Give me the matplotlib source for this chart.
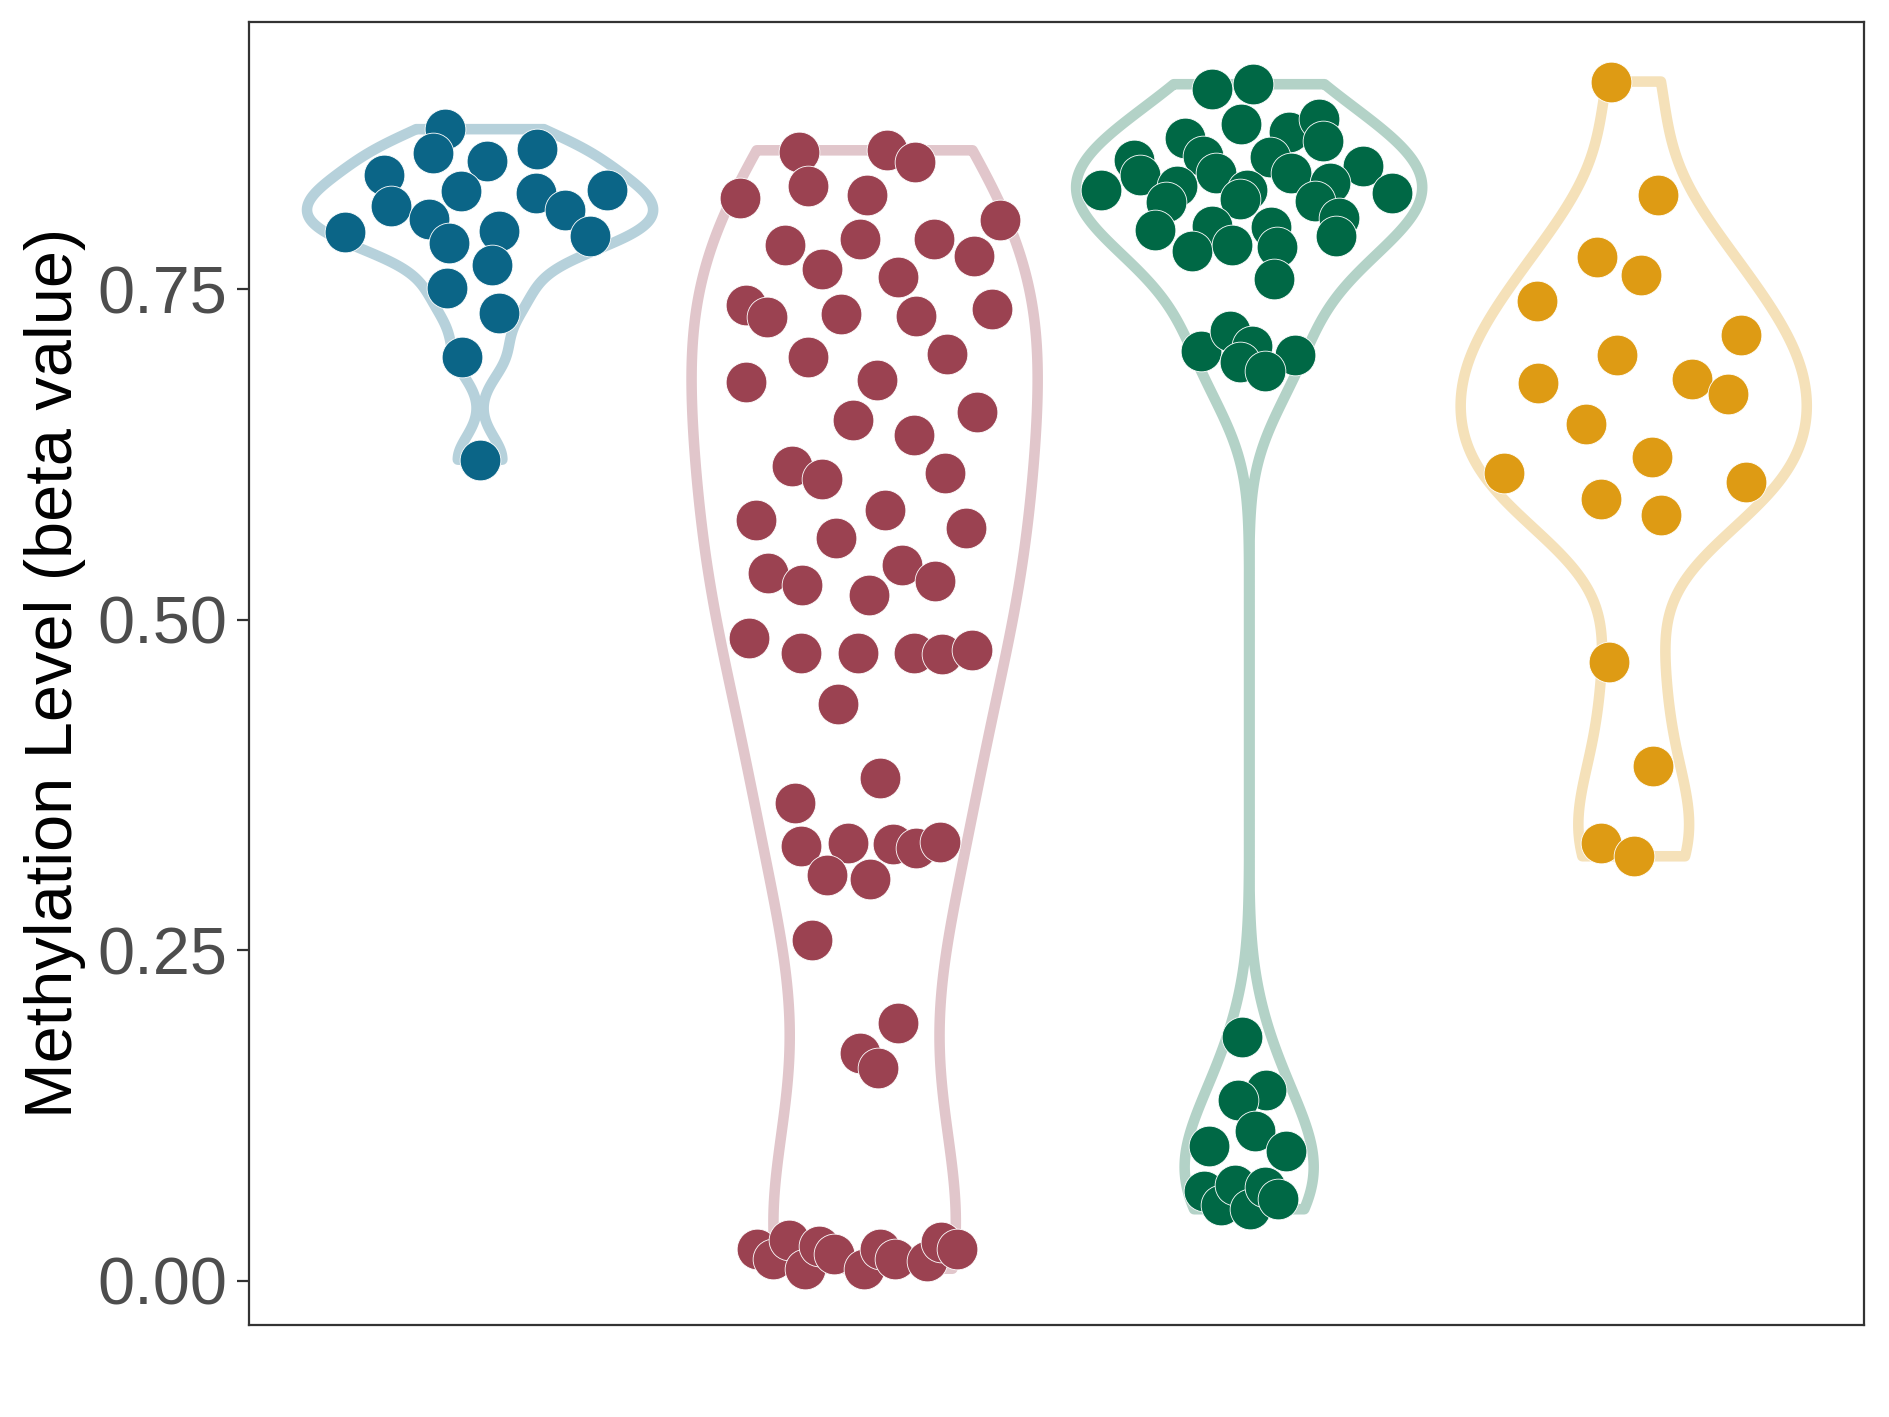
import numpy as np
import matplotlib
matplotlib.use("Agg")
import matplotlib.pyplot as plt

plt.rcParams['font.family'] = ['Liberation Sans', 'DejaVu Sans']

# ---- data ----
groups = ["G1", "G2", "G3", "G4"]
point_colors = ["#0B6587", "#9B4251", "#006845", "#DE9B14"]

g1_jitter = [-0.092, -0.122, -0.250, 0.017, 0.148, -0.049, -0.231, 0.146, 0.331, -0.134,
             0.220, -0.351, -0.082, 0.049, 0.287, 0.030, -0.087, 0.049, -0.047, 0.000]
g1_values = [0.871, 0.853, 0.836, 0.847, 0.856, 0.824, 0.813, 0.823, 0.825, 0.803,
             0.810, 0.793, 0.785, 0.794, 0.790, 0.768, 0.751, 0.732, 0.699, 0.621]

g2_jitter = [-0.170, 0.058, 0.131, -0.148, -0.324, 0.005, 0.351, -0.207, -0.012, 0.180,
             0.284, -0.112, 0.087, -0.309, -0.255, -0.061, 0.134, 0.331, -0.146, 0.214,
             -0.308, 0.032, -0.030, 0.292, 0.129, -0.189, -0.110, 0.209, 0.052, -0.283,
             0.264, -0.075, 0.098, -0.250, -0.162, 0.011, 0.184, -0.301, -0.165, -0.018,
             0.129, 0.201, 0.279, -0.070, 0.039, -0.182, -0.165, -0.044, 0.075, 0.134,
             0.195, -0.099, 0.014, -0.138, 0.087, -0.012, 0.035,
             -0.279, -0.238, -0.196, -0.155, -0.118, -0.080, -0.001, 0.040, 0.079, 0.161,
             0.198, 0.239]
g2_values = [0.854, 0.855, 0.846, 0.828, 0.819, 0.821, 0.802, 0.783, 0.788, 0.788,
             0.775, 0.765, 0.759, 0.738, 0.729, 0.731, 0.730, 0.735, 0.699, 0.701,
             0.680, 0.681, 0.651, 0.657, 0.640, 0.616, 0.606, 0.611, 0.583, 0.575,
             0.569, 0.562, 0.541, 0.535, 0.526, 0.519, 0.529, 0.486, 0.475, 0.475,
             0.475, 0.474, 0.477, 0.436, 0.380, 0.361, 0.329, 0.331, 0.330, 0.327,
             0.332, 0.307, 0.304, 0.258, 0.195, 0.172, 0.161,
             0.024, 0.016, 0.031, 0.009, 0.026, 0.020, 0.009, 0.024, 0.016, 0.015,
             0.029, 0.024]

g3_jitter = [-0.096, 0.010, -0.020, 0.103, 0.181, 0.193, -0.168, -0.300, -0.284, -0.120,
             -0.085, 0.055, 0.110, 0.296, 0.372, -0.385, -0.188, -0.215, -0.005, -0.024,
             0.211, 0.170, 0.233, 0.226, -0.244, -0.097, -0.148, -0.044, 0.058, 0.073,
             0.064,
             -0.124, -0.051, 0.008, 0.118, -0.023, 0.040,
             -0.019, 0.045, -0.029, 0.014, -0.105, 0.097,
             -0.118, -0.072, -0.038, 0.001, 0.040, 0.075]
g3_values = [0.901, 0.905, 0.875, 0.869, 0.879, 0.862, 0.864, 0.848, 0.836, 0.851,
             0.838, 0.850, 0.838, 0.843, 0.823, 0.825, 0.828, 0.816, 0.825, 0.818,
             0.830, 0.817, 0.804, 0.790, 0.795, 0.798, 0.779, 0.783, 0.797, 0.782,
             0.758,
             0.703, 0.718, 0.707, 0.700, 0.695, 0.688,
             0.184, 0.144, 0.137, 0.113, 0.102, 0.098,
             0.068, 0.057, 0.072, 0.054, 0.071, 0.062]

g4_jitter = [-0.058, 0.062, -0.095, 0.018, -0.252, 0.278, -0.044, -0.248, 0.152, 0.245,
             -0.123, 0.048, -0.338, 0.292, -0.085, 0.071, -0.064, 0.050, -0.084, 0.002]
g4_values = [0.907, 0.821, 0.774, 0.761, 0.741, 0.715, 0.700, 0.679, 0.682, 0.671,
             0.648, 0.623, 0.611, 0.604, 0.591, 0.579, 0.468, 0.389, 0.331, 0.321]

y_ticks = [0.00, 0.25, 0.50, 0.75]
y_tick_labels = ["0.00", "0.25", "0.50", "0.75"]
y_label = "Methylation Level (beta value)"

all_jitter = [g1_jitter, g2_jitter, g3_jitter, g4_jitter]
all_values = [g1_values, g2_values, g3_values, g4_values]


def nrd0(v):
    v = np.asarray(v, float)
    sd = np.std(v, ddof=1)
    q75, q25 = np.percentile(v, [75, 25])
    lo = min(sd, (q75 - q25) / 1.34)
    if lo <= 0:
        lo = sd
    return 0.9 * lo * len(v) ** (-0.2)


def blend(hexcol, alpha):
    c = np.array(matplotlib.colors.to_rgb(hexcol))
    return tuple(alpha * c + (1 - alpha) * 1.0)


fig = plt.figure(figsize=(1889 / 200, 1417 / 200), dpi=200)
ax = fig.add_axes([0.132, 0.0648, 0.855, 0.9199])

half_width = 0.45
for i, (jit, vals, col) in enumerate(zip(all_jitter, all_values, point_colors)):
    pos = i + 1
    v = np.asarray(vals, float)
    bw = nrd0(v)
    grid = np.linspace(v.min(), v.max(), 512)
    dens = np.exp(-0.5 * ((grid[:, None] - v[None, :]) / bw) ** 2).sum(axis=1)
    dens = dens / dens.max() * half_width
    xs = np.concatenate([pos + dens, (pos - dens)[::-1], [pos + dens[0]]])
    ys = np.concatenate([grid, grid[::-1], [grid[0]]])
    ax.fill(xs, ys, facecolor="white", edgecolor=blend(col, 0.3),
            linewidth=3.8, joinstyle="round", zorder=2)

for i, (jit, vals, col) in enumerate(zip(all_jitter, all_values, point_colors)):
    pos = i + 1
    ax.scatter(pos + np.asarray(jit), vals, s=215, color=col,
               edgecolor="white", linewidth=0.3, zorder=3)

ax.set_xlim(0.4, 4.6)
ax.set_ylim(-0.0337, 0.9523)
ax.set_xticks([])
ax.set_yticks(y_ticks)
ax.set_yticklabels(y_tick_labels)
ax.tick_params(axis="y", labelsize=24, labelcolor="#4D4D4D", color="#333333",
               length=4.3, width=0.8, pad=3.5)
ax.set_ylabel(y_label, fontsize=24, color="black")
ax.yaxis.set_label_coords(-0.101, 0.5)
for sp in ax.spines.values():
    sp.set_color("#333333")
    sp.set_linewidth(0.8)

fig.savefig("out.png", dpi=200)
